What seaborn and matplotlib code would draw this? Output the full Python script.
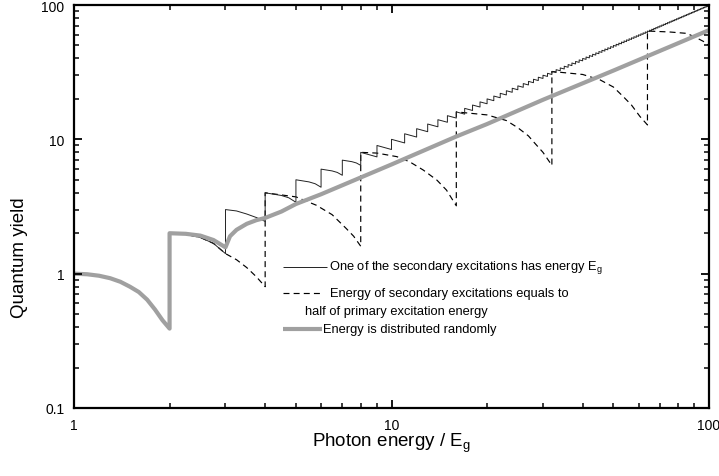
import matplotlib
matplotlib.use("Agg")
import matplotlib.pyplot as plt
from matplotlib.collections import LineCollection
from matplotlib.transforms import blended_transform_factory
from matplotlib.ticker import FixedLocator, LogLocator, NullFormatter
import seaborn as sns

# ---------------------------------------------------------------------------
# Data (photon energy in units of Eg, quantum yield)
# ---------------------------------------------------------------------------

# "One of the secondary excitations has energy Eg": first teeth, with shape points
thin_head_x = [1, 1.1, 1.2, 1.3, 1.4, 1.5, 1.6, 1.7, 1.8, 1.9, 2,
               2, 2.25, 2.5, 2.75, 3,
               3, 3.25, 3.5, 3.75, 4,
               4, 4.5, 4.75, 5,
               5, 5.5, 5.75, 6,
               6, 6.5, 6.75, 7,
               7, 7.5, 7.75, 8]
thin_head_y = [1, 0.99, 0.965, 0.925, 0.87, 0.8, 0.73, 0.64, 0.54, 0.45, 0.39,
               2, 1.96, 1.86, 1.68, 1.41,
               3, 2.93, 2.78, 2.62, 2.45,
               4, 3.82, 3.67, 3.4,
               5, 4.82, 4.67, 4.4,
               6, 5.82, 5.67, 5.4,
               7, 6.82, 6.67, 6.4]

# remaining teeth: onset energy, yield at onset, yield just before next onset
teeth_x = [8, 9, 10, 11, 12, 13, 14, 15, 16, 17, 18, 19, 20,
           21, 22, 23, 24, 25, 26, 27, 28, 29, 30, 31, 32, 33, 34, 35, 36,
           37, 38, 39, 40, 41, 42, 43, 44, 45, 46, 47, 48, 49, 50, 51, 52,
           53, 54, 55, 56, 57, 58, 59, 60, 61, 62, 63, 64, 65, 66, 67, 68,
           69, 70, 71, 72, 73, 74, 75, 76, 77, 78, 79, 80, 81, 82, 83, 84,
           85, 86, 87, 88, 89, 90, 91, 92, 93, 94, 95, 96, 97, 98, 99]
teeth_top = [8, 9, 10, 11, 12, 13, 14, 15, 16, 17, 18, 19, 20,
             21, 22, 23, 24, 25, 26, 27, 28, 29, 30, 31, 32, 33, 34, 35, 36,
             37, 38, 39, 40, 41, 42, 43, 44, 45, 46, 47, 48, 49, 50, 51, 52,
             53, 54, 55, 56, 57, 58, 59, 60, 61, 62, 63, 64, 65, 66, 67, 68,
             69, 70, 71, 72, 73, 74, 75, 76, 77, 78, 79, 80, 81, 82, 83, 84,
             85, 86, 87, 88, 89, 90, 91, 92, 93, 94, 95, 96, 97, 98, 99]
teeth_end = [7.4, 8.4, 9.4, 10.4, 11.4, 12.4, 13.4,
             14.4, 15.4, 16.4, 17.4, 18.4, 19.4, 20.4, 21.4, 22.4, 23.4,
             24.4, 25.4, 26.4, 27.4, 28.4, 29.4, 30.4, 31.4, 32.4, 33.4,
             34.4, 35.4, 36.4, 37.4, 38.4, 39.4, 40.4, 41.4, 42.4, 43.4,
             44.4, 45.4, 46.4, 47.4, 48.4, 49.4, 50.4, 51.4, 52.4, 53.4,
             54.4, 55.4, 56.4, 57.4, 58.4, 59.4, 60.4, 61.4, 62.4, 63.4,
             64.4, 65.4, 66.4, 67.4, 68.4, 69.4, 70.4, 71.4, 72.4, 73.4,
             74.4, 75.4, 76.4, 77.4, 78.4, 79.4, 80.4, 81.4, 82.4, 83.4,
             84.4, 85.4, 86.4, 87.4, 88.4, 89.4, 90.4, 91.4, 92.4, 93.4,
             94.4, 95.4, 96.4, 97.4, 98.4]

# "Energy of secondary excitations equals to half of primary excitation energy"
half_x = [1, 1.1, 1.2, 1.3, 1.4, 1.5, 1.6, 1.7, 1.8, 1.9, 2,
          2, 2.25, 2.5, 2.75, 3, 3.25, 3.5, 3.75, 4,
          4, 5, 5.8, 6.5, 7.2, 7.6, 8,
          8, 9, 10.4, 11.4, 12.6, 13.9, 14.9, 16,
          16, 20, 23, 25, 27, 28, 30, 32,
          32, 40, 45.4, 50, 53.7, 57, 60.6, 64,
          64, 75, 85, 90, 96, 100]
half_y = [1, 0.99, 0.965, 0.925, 0.87, 0.8, 0.73, 0.64, 0.54, 0.45, 0.39,
          2, 1.96, 1.86, 1.68, 1.41, 1.27, 1.11, 0.95, 0.8,
          4, 3.73, 3.23, 2.75, 2.17, 1.9, 1.6,
          8, 7.9, 7.43, 6.81, 5.9, 4.97, 4.19, 3.2,
          16, 15.2, 13.8, 12.2, 10.6, 9.6, 8.0, 6.4,
          32, 30.4, 27.7, 24.5, 20.8, 18.0, 14.8, 12.8,
          64, 63, 61.5, 58, 53.6, 50]

# "Energy is distributed randomly"
rand_x = [1, 1.1, 1.2, 1.3, 1.4, 1.5, 1.6, 1.7, 1.8, 1.9, 2,
          2, 2.25, 2.5, 2.75, 3, 3.1, 3.25, 3.5, 3.75, 4, 4.5, 5, 6, 8,
          10, 16, 20, 30, 50, 70, 100]
rand_y = [1, 0.99, 0.965, 0.925, 0.87, 0.8, 0.73, 0.64, 0.54, 0.45, 0.39,
          2, 1.98, 1.92, 1.78, 1.57, 1.9, 2.12, 2.35, 2.5, 2.6, 2.9, 3.3,
          3.9, 5.2, 6.5, 10.5, 13, 19.7, 32.5, 45.5, 65]

x_ticks = [1, 10, 100]
x_tick_labels = ["1", "10", "100"]
y_ticks = [0.1, 1, 10, 100]
y_tick_labels = ["0.1", "1", "10", "100"]

legend_labels = [
    "One of the secondary excitations has energy $\\mathregular{E_g}$",
    "Energy of secondary excitations equals to",
    "half of primary excitation energy",
    "Energy is distributed randomly",
]

# ---------------------------------------------------------------------------
# Style
# ---------------------------------------------------------------------------
sns.set_theme(style="ticks")
plt.rcParams.update({
    "font.family": ["Liberation Sans", "DejaVu Sans"],
    "mathtext.fontset": "custom",
    "mathtext.rm": "Liberation Sans",
    "lines.scale_dashes": False,
    "axes.axisbelow": False,
})

W, H = 719, 477
fig = plt.figure(figsize=(W / 100, H / 100), dpi=100)
fig.patch.set_facecolor("white")
left, right, top, bottom = 74, 709, 6, 409
ax = fig.add_axes([left / W, 1 - bottom / H, (right - left) / W, (bottom - top) / H])
ax.set_facecolor("white")
ax.set_xscale("log")
ax.set_yscale("log")

# build the sawtooth path for the single-Eg channel model
thin_x = list(thin_head_x)
thin_y = list(thin_head_y)
teeth_stop = teeth_x[1:] + [100]
for x0, x1, y0, y1 in zip(teeth_x, teeth_stop, teeth_top, teeth_end):
    thin_x += [x0, x1]
    thin_y += [y0, y1]

sns.lineplot(x=half_x, y=half_y, sort=False, estimator=None, ax=ax,
             color="black", linewidth=0.85, linestyle=(0, (4.3, 3.0)))
sns.lineplot(x=thin_x, y=thin_y, sort=False, estimator=None, ax=ax,
             color="#222222", linewidth=0.7)
sns.lineplot(x=rand_x, y=rand_y, sort=False, estimator=None, ax=ax,
             color="#a0a0a0", linewidth=3.0)

ax.set_xlim(1, 100)
ax.set_ylim(0.1, 100)

ax.xaxis.set_major_locator(FixedLocator(x_ticks))
ax.set_xticklabels(x_tick_labels)
ax.yaxis.set_major_locator(FixedLocator(y_ticks))
ax.set_yticklabels(y_tick_labels)
for axis in (ax.xaxis, ax.yaxis):
    axis.set_minor_locator(LogLocator(base=10, subs=(2, 3, 4, 5, 6, 7, 8, 9),
                                      numticks=20))
    axis.set_minor_formatter(NullFormatter())

# tick labels only; the inward tick strokes are drawn below as line segments
ax.tick_params(which="both", direction="in", length=0, color="black",
               labelcolor="black", labelsize=10)
ax.tick_params(which="major", pad=7)
for s in ax.spines.values():
    s.set_linewidth(1.6)
    s.set_color("black")

# inward ticks on all four sides
ax_w, ax_h = right - left, bottom - top
major_px, minor_px = 8.0, 5.0
xb = blended_transform_factory(ax.transData, ax.transAxes)
yb = blended_transform_factory(ax.transAxes, ax.transData)
for locs, length, lw in (
    (ax.xaxis.get_majorticklocs(), major_px, 1.8),
    (ax.xaxis.get_minorticklocs(), minor_px, 1.5),
):
    locs = [v for v in locs if 1 <= v <= 100]
    fx = length / ax_h
    segs = [[(v, 0), (v, fx)] for v in locs] + [[(v, 1), (v, 1 - fx)] for v in locs]
    ax.add_collection(LineCollection(segs, transform=xb, colors="black",
                                     linewidths=lw * 0.72, clip_on=False, zorder=4),
                      autolim=False)
for locs, length, lw in (
    (ax.yaxis.get_majorticklocs(), major_px, 1.8),
    (ax.yaxis.get_minorticklocs(), minor_px, 1.5),
):
    locs = [v for v in locs if 0.1 <= v <= 100]
    fy = length / ax_w
    segs = [[(0, v), (fy, v)] for v in locs] + [[(1, v), (1 - fy, v)] for v in locs]
    ax.add_collection(LineCollection(segs, transform=yb, colors="black",
                                     linewidths=lw * 0.72, clip_on=False, zorder=4),
                      autolim=False)

ax.set_xlabel("Photon energy / $\\mathregular{E_g}$", fontsize=13.5, color="black")
ax.set_ylabel("Quantum yield", fontsize=13.5, color="black")
ax.xaxis.set_label_coords(0.5, (bottom - 432) / ax_h)
ax.yaxis.set_label_coords((28 - left) / ax_w, (bottom - 258) / ax_h)


def ax_pt(px, py):
    return (px - left) / ax_w, (bottom - py) / ax_h


# legend, laid out by hand so the wrapped label can hang to the left
legend_size = 9.3
rows = [
    (268, dict(color="#222222", lw=0.7), 283, 327, 329),
    (294, dict(color="black", lw=0.85, ls=(0, (4.3, 3.0))), 283, 320, 330),
    (330, dict(color="#a0a0a0", lw=3.0), 283, 322, 323),
]
for (py, kw, hx0, hx1, tx), label in zip(rows, [legend_labels[0], legend_labels[1],
                                                legend_labels[3]]):
    (a0, b), (a1, _) = ax_pt(hx0, py), ax_pt(hx1, py)
    ax.plot([a0, a1], [b, b], transform=ax.transAxes, solid_capstyle="butt", **kw)
    tx_a, ty_a = ax_pt(tx, py)
    ax.text(tx_a, ty_a, label, transform=ax.transAxes, ha="left", va="center",
            fontsize=legend_size, color="black")
tx_a, ty_a = ax_pt(305, 312)
ax.text(tx_a, ty_a, legend_labels[2], transform=ax.transAxes, ha="left", va="center",
        fontsize=legend_size, color="black")

fig.savefig("out.png", dpi=100, facecolor="white")
